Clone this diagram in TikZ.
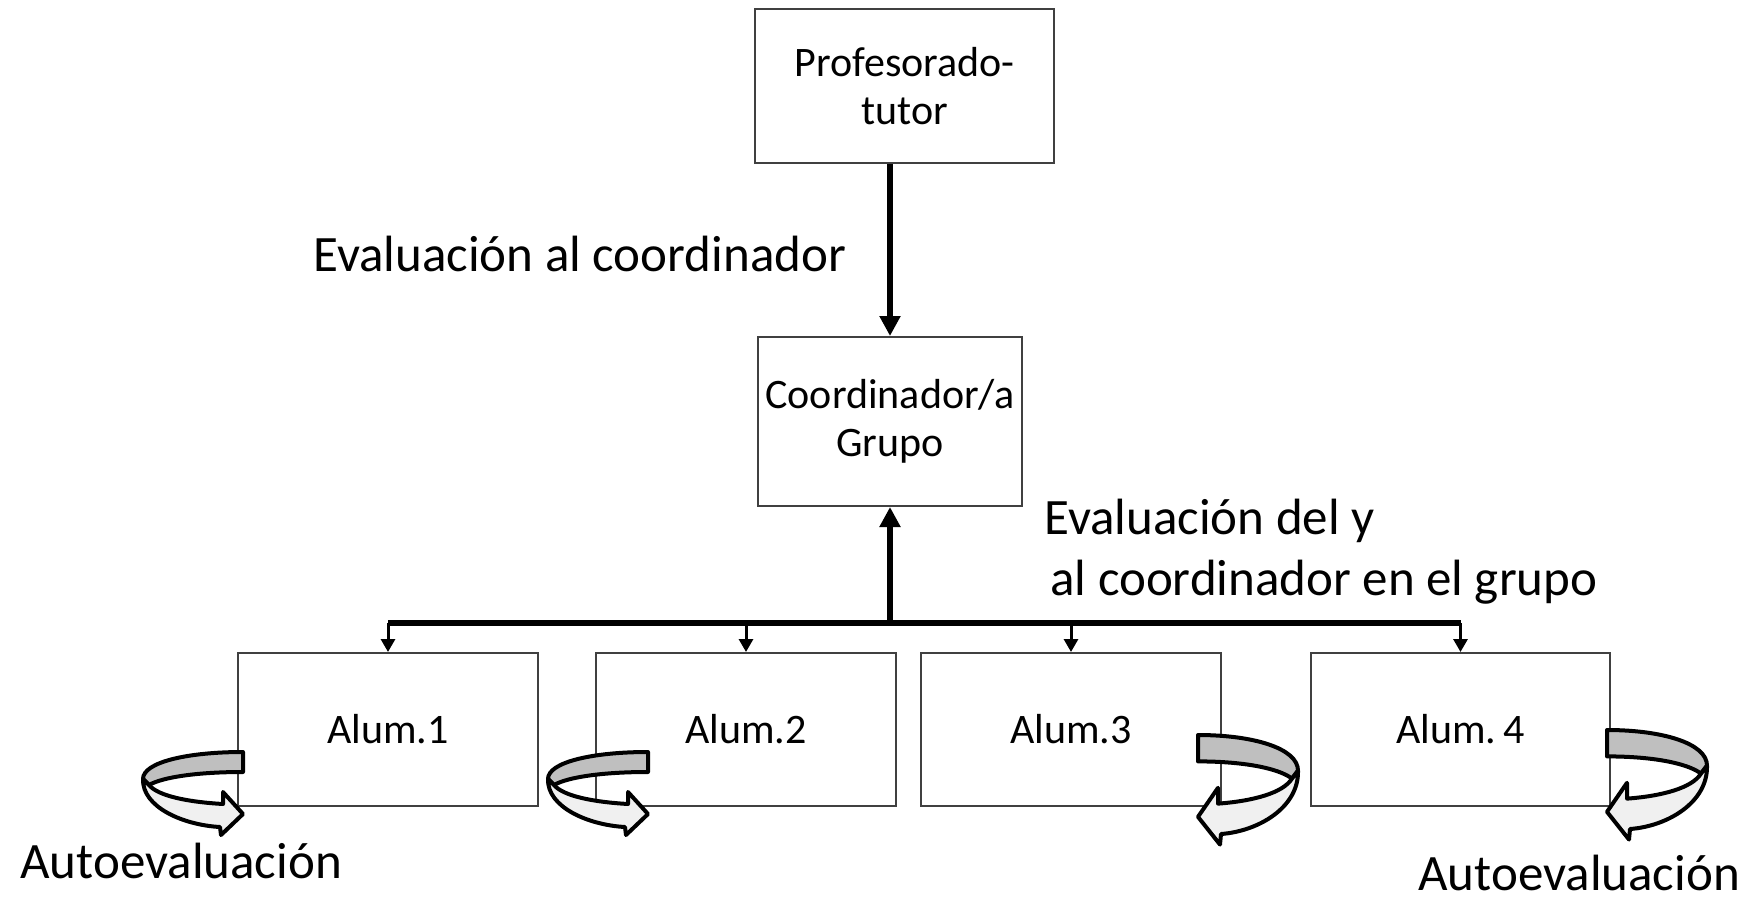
\documentclass[tikz,border=0pt]{standalone}
\usepackage{fontspec}
\setmainfont{Carlito}
\usetikzlibrary{arrows.meta}
\usetikzlibrary{positioning}

\tikzset{autoloop/.pic={
  % back half of the loop (grey) and front half with the head
  \filldraw[rib,fill=black!25] (0,0) .. controls (-55,0) and (-100,10) .. (-100,27)
    -- (-94,33) .. controls (-80,25) and (-45,20) .. (0,20) -- cycle;
  \filldraw[rib,fill=black!6] (-100,27) .. controls (-101,55) and (-60,73) .. (-23,75)
    -- (-22,83) -- (0,62) -- (-20,40) -- (-20,52)
    .. controls (-55,50) and (-85,44) .. (-94,33) -- cycle;
}}

\begin{document}
\begin{tikzpicture}[x=1pt,y=-1pt,thick]
\tikzstyle{box}=[rectangle,draw=black!75,line width=2pt,fill=white,minimum width=300pt,minimum height=153pt,inner sep=0pt,align=center,font=\fontsize{42}{48}\selectfont]
\tikzstyle{lbl}=[inner sep=0pt,anchor=base west,font=\fontsize{51}{61}\selectfont]
\tikzstyle{bigarrow}=[line width=6pt,-{Triangle[length=20pt,width=20pt]}]
\tikzstyle{tick}=[line width=3pt,-{Triangle[length=13pt,width=14pt]}]
\tikzstyle{rib}=[draw=black,line width=4pt,line join=round]
\useasboundingbox (0,0) rectangle (1751,899);

\node[box,minimum width=299pt,minimum height=154pt]	(prof)	at (904.5,86)	{Profesorado-\\tutor};
\node[box,minimum width=264pt,minimum height=169pt]	(coord)	at (890,421.5)	{Coordinador/a\\Grupo};
\node[box]	(a1)	at (388,729.5)	{Alum.1};
\node[box]	(a2)	at (746,729.5)	{Alum.2};
\node[box]	(a3)	at (1071,729.5)	{Alum.3};
\node[box,minimum width=299pt]	(a4)	at (1460.5,729.5)	{Alum.\,4};
\coordinate (bus) at (890,623);

\draw[bigarrow] (coord.north |- prof.south) -- (coord.north);
\draw[bigarrow] (bus) -- (coord.south);
\draw[line width=6pt] (a1.north |- bus) -- (a4.north |- bus);
\foreach \a in {a1,a2,a3,a4}
  \draw[tick] (\a.north |- bus) -- (\a.north);

\pic at (243,752) {autoloop};
\pic at (648,752) {autoloop};
\pic[xscale=-1,yscale=1.32] at (1198,735) {autoloop};
\pic[xscale=-1,yscale=1.32] at (1607,730) {autoloop};

\node[lbl]	(evalcoord)	at (313,271)	{Evaluación al coordinador};
\node[lbl]	(evalgrupo)	at (1044,534)	{Evaluación del y};
\node[lbl]	(evalgrupob)	at (1050,595)	{al coordinador en el grupo};
\node[lbl]	(autoizq)	at (20,878)	{Autoevaluación};
\node[lbl]	(autoder)	at (1418,890)	{Autoevaluación};
\end{tikzpicture}
\end{document}
